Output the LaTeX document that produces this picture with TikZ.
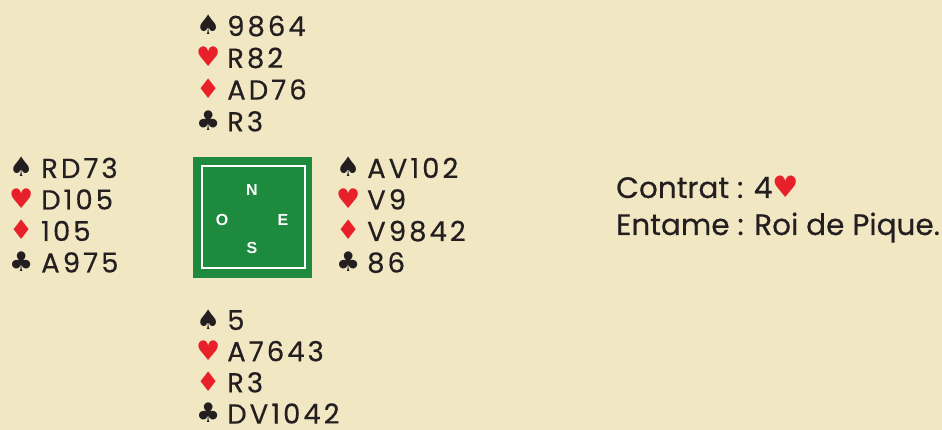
\documentclass[tikz,border=0pt]{standalone}
\usepackage{fontspec}
\setmainfont{Poppins}[FakeBold=0.4]
\newfontfamily\handfont[LetterSpace=11,FakeBold=0.4]{Poppins}
\newfontfamily\suitfont{DejaVu Sans}
\newfontfamily\compassfont{Liberation Sans}

\definecolor{bg}{HTML}{F2E7C3}
\definecolor{felt}{HTML}{1D8A3E}
\definecolor{suitred}{HTML}{E8202A}
\definecolor{ink}{HTML}{231F20}

\tikzset{
    cardtxt/.style={anchor=base west,inner sep=0pt,text=ink,font=\handfont\fontsize{27.5}{27.5}\selectfont},
    suitsym/.style={anchor=base west,inner sep=0pt,font=\suitfont\fontsize{27}{27}\selectfont},
    compass/.style={text=white,inner sep=0pt,font=\compassfont\bfseries\fontsize{16}{16}\selectfont},
    contract/.style={anchor=base west,inner sep=0pt,text=ink,font=\fontsize{29.5}{29.5}\selectfont},
}

\begin{document}
\begin{tikzpicture}[x=1pt,y=-1pt]
    \fill [bg] (0,0) rectangle (942,430);

    % the table
    \fill [felt] (193,157) coordinate (tnw) rectangle (312,278) coordinate (tse);
    \draw [white,line width=1.5pt] (202,166) rectangle (305,268);
    \node [compass] (N) at (252,190) {N};
    \node [compass] (O) at (222,220) {O};
    \node [compass] (E) at (283,220) {E};
    \node [compass] (S) at (252,248) {S};

    % North
    \foreach \s/\c/\h [count=\i] in {♠/ink/9864,♥/suitred/R82,♦/suitred/AD76,♣/ink/R3} {
        \node [suitsym,text=\c] (nsuit\i) at (196,35+31.8*\i-31.8) {\s};
        \node [cardtxt] (north\i) at (227,36+31.8*\i-31.8) {\h};
    }
    % West
    \foreach \s/\c/\h [count=\i] in {♠/ink/RD73,♥/suitred/D105,♦/suitred/105,♣/ink/A975} {
        \node [suitsym,text=\c] (wsuit\i) at (9,177+31.5*\i-31.5) {\s};
        \node [cardtxt] (west\i) at (41,178+31.5*\i-31.5) {\h};
    }
    % East
    \foreach \s/\c/\h [count=\i] in {♠/ink/AV102,♥/suitred/V9,♦/suitred/V9842,♣/ink/86} {
        \node [suitsym,text=\c] (esuit\i) at (336,177+31.5*\i-31.5) {\s};
        \node [cardtxt] (east\i) at (367,178+31.5*\i-31.5) {\h};
    }
    % South
    \foreach \s/\c/\h [count=\i] in {♠/ink/5,♥/suitred/A7643,♦/suitred/R3,♣/ink/DV1042} {
        \node [suitsym,text=\c] (ssuit\i) at (196,329+31.2*\i-31.2) {\s};
        \node [cardtxt] (south\i) at (227,330+31.2*\i-31.2) {\h};
    }

    \node [contract] (contrat) at (616,198) {Contrat : 4{\suitfont\color{suitred}♥}};
    \node [contract] (entame) at (616,235) {Entame : Roi de Pique.};
\end{tikzpicture}
\end{document}
